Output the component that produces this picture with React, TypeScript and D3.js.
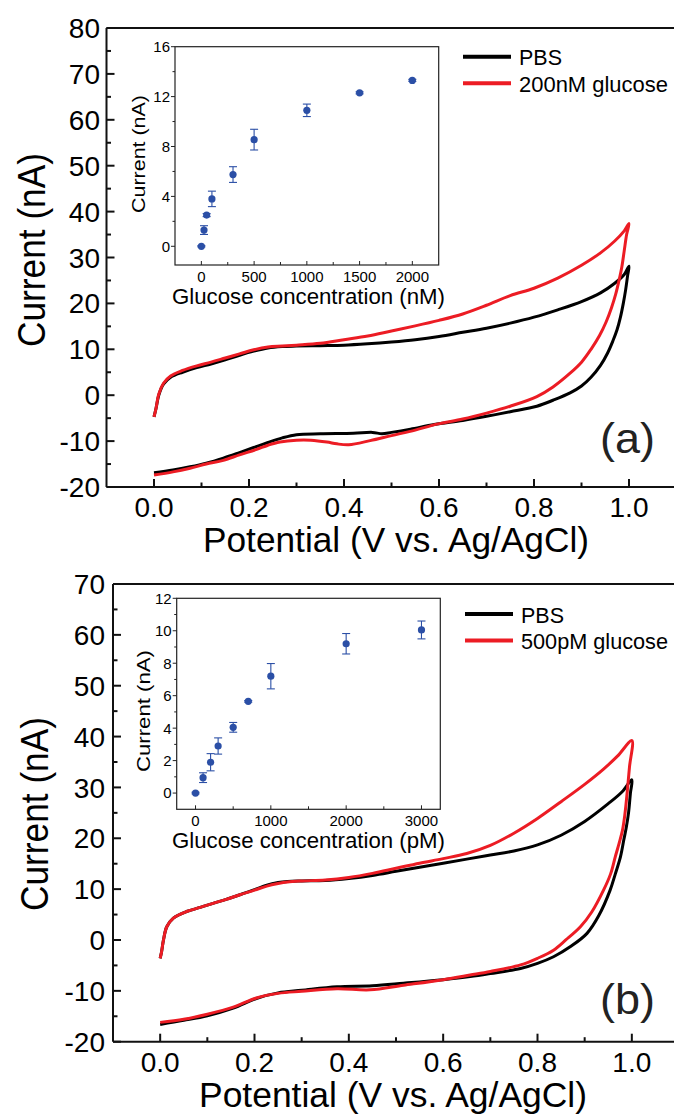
import React from 'react';
import * as d3 from 'd3';

type Pt = [number, number];

// ---------- Panel (a) cyclic voltammograms: [potential V, current nA] ----------
const aPbsFwd: Pt[] = [[0,-4.7],[0.004,-3.0],[0.01,0.0],[0.02,2.4],[0.035,3.9],[0.06,5.0],[0.09,6.0],[0.12,6.8],[0.15,7.7],[0.18,8.7],[0.21,9.6],[0.24,10.3],[0.27,10.6],[0.3,10.7],[0.35,10.8],[0.4,10.9],[0.45,11.2],[0.5,11.6],[0.55,12.1],[0.6,12.8],[0.65,13.7],[0.7,14.6],[0.75,15.7],[0.8,17.0],[0.85,18.6],[0.9,20.4],[0.94,22.3],[0.97,24.4],[0.99,26.3],[1.0,28.1]];
const aPbsRev: Pt[] = [[0.997,26.0],[0.993,23.0],[0.988,20.0],[0.982,17.0],[0.975,14.3],[0.966,11.8],[0.955,9.2],[0.94,6.5],[0.92,3.9],[0.9,2.0],[0.876,0.5],[0.84,-1.1],[0.806,-2.4],[0.75,-3.6],[0.7,-4.6],[0.65,-5.5],[0.59,-6.4],[0.54,-7.4],[0.5,-8.1],[0.48,-8.4],[0.46,-8.1],[0.42,-8.3],[0.35,-8.4],[0.3,-8.6],[0.27,-9.3],[0.24,-10.3],[0.21,-11.4],[0.18,-12.5],[0.146,-13.7],[0.11,-14.8],[0.076,-15.6],[0.04,-16.3],[0,-16.9]];
const aGluFwd: Pt[] = [[0,-4.7],[0.004,-3.0],[0.01,0.2],[0.02,2.6],[0.035,4.2],[0.06,5.4],[0.09,6.4],[0.12,7.2],[0.15,8.1],[0.18,9.0],[0.21,9.9],[0.24,10.5],[0.27,10.7],[0.3,10.9],[0.35,11.3],[0.4,12.1],[0.45,12.9],[0.5,14.0],[0.55,15.1],[0.6,16.3],[0.65,17.7],[0.7,19.6],[0.75,21.7],[0.8,23.3],[0.85,25.5],[0.9,28.3],[0.94,31.0],[0.97,33.6],[0.99,35.8],[1.0,37.4]];
const aGluRev: Pt[] = [[0.995,35.0],[0.99,31.5],[0.985,28.0],[0.979,25.0],[0.972,22.0],[0.963,19.0],[0.952,16.0],[0.938,13.0],[0.92,10.0],[0.9,7.2],[0.876,4.8],[0.84,1.8],[0.806,-0.3],[0.75,-2.4],[0.7,-3.9],[0.65,-5.2],[0.596,-6.3],[0.55,-7.6],[0.5,-8.8],[0.455,-9.9],[0.41,-10.8],[0.385,-10.6],[0.364,-10.2],[0.33,-9.8],[0.3,-9.8],[0.265,-10.2],[0.24,-10.9],[0.216,-11.8],[0.18,-13.0],[0.146,-14.2],[0.11,-15.0],[0.076,-15.9],[0.04,-16.7],[0,-17.4]];

// ---------- Panel (b) ----------
const bPbsFwd: Pt[] = [[0,-3.6],[0.003,-2.3],[0.007,0.0],[0.014,2.6],[0.028,4.3],[0.056,5.6],[0.085,6.4],[0.112,7.2],[0.14,8.0],[0.169,8.9],[0.2,9.9],[0.226,10.8],[0.25,11.3],[0.27,11.5],[0.3,11.6],[0.35,11.7],[0.4,12.1],[0.45,12.7],[0.5,13.5],[0.55,14.3],[0.6,15.1],[0.65,15.9],[0.7,16.7],[0.75,17.5],[0.8,18.7],[0.85,20.6],[0.9,23.3],[0.95,26.8],[0.98,29.2],[1.0,31.5]];
const bPbsRev: Pt[] = [[0.997,28.9],[0.993,25.0],[0.988,22.0],[0.983,19.7],[0.976,16.4],[0.965,13.0],[0.954,9.8],[0.93,4.8],[0.905,1.3],[0.87,-1.3],[0.834,-3.3],[0.8,-4.6],[0.764,-5.6],[0.7,-6.6],[0.657,-7.2],[0.6,-7.8],[0.516,-8.5],[0.45,-9.0],[0.375,-9.2],[0.3,-9.9],[0.25,-10.4],[0.204,-11.5],[0.155,-13.4],[0.1,-14.9],[0.05,-15.8],[0,-16.6]];
const bGluFwd: Pt[] = [[0,-3.6],[0.003,-2.3],[0.007,0.0],[0.014,2.6],[0.028,4.3],[0.056,5.6],[0.085,6.4],[0.112,7.2],[0.14,8.0],[0.169,8.9],[0.2,9.8],[0.226,10.6],[0.25,11.1],[0.27,11.4],[0.3,11.6],[0.35,11.8],[0.4,12.3],[0.45,13.1],[0.5,14.1],[0.55,15.1],[0.6,16.0],[0.65,17.0],[0.7,18.6],[0.75,21.0],[0.8,23.9],[0.85,27.2],[0.9,30.6],[0.94,33.6],[0.97,36.2],[1.0,39.2]];
const bGluRev: Pt[] = [[0.995,34.0],[0.99,28.9],[0.985,24.5],[0.98,21.5],[0.973,19.0],[0.965,16.4],[0.955,13.0],[0.94,9.8],[0.915,5.5],[0.891,2.6],[0.86,0.0],[0.834,-2.0],[0.8,-3.6],[0.764,-4.9],[0.7,-6.2],[0.657,-6.9],[0.6,-7.8],[0.516,-8.9],[0.445,-9.8],[0.375,-9.6],[0.3,-10.1],[0.25,-10.5],[0.204,-11.4],[0.155,-13.2],[0.1,-14.6],[0.05,-15.6],[0,-16.2]];

// ---------- Insets: calibration points ----------
const insetAConc = [0, 25, 50, 100, 300, 500, 1000, 1500, 2000];
const insetACurrent = [0, 1.3, 2.5, 3.8, 5.75, 8.55, 10.9, 12.3, 13.3];
const insetAErr = [0.05, 0.35, 0.12, 0.62, 0.63, 0.83, 0.5, 0.08, 0.08];

const insetBConc = [0, 100, 200, 300, 500, 700, 1000, 2000, 3000];
const insetBCurrent = [0, 0.95, 1.9, 2.9, 4.05, 5.65, 7.2, 9.2, 10.05];
const insetBErr = [0.05, 0.3, 0.53, 0.5, 0.3, 0.05, 0.78, 0.63, 0.55];

// ---------- ticks / labels ----------
const potentialTicks = [0, 0.2, 0.4, 0.6, 0.8, 1.0];
const potentialMinor = [0.1, 0.3, 0.5, 0.7, 0.9];
const currentTicksA = [-20, -10, 0, 10, 20, 30, 40, 50, 60, 70, 80];
const currentTicksB = [-20, -10, 0, 10, 20, 30, 40, 50, 60, 70];
const insetAXTicks = [0, 500, 1000, 1500, 2000];
const insetAXMinor = [250, 750, 1250, 1750];
const insetAYTicks = [0, 4, 8, 12, 16];
const insetAYMinor = [2, 6, 10, 14];
const insetBXTicks = [0, 1000, 2000, 3000];
const insetBXMinor = [500, 1500, 2500];
const insetBYTicks = [0, 2, 4, 6, 8, 10, 12];
const insetBYMinor = [1, 3, 5, 7, 9, 11];

const FONT = '"Liberation Sans", Arial, Helvetica, sans-serif';
const RED = '#ec1c24';
const BLUE = '#2b4fa6';

interface InsetCfg {
  left: number; right: number; top: number; bottom: number;
  xDomain: [number, number]; yDomain: [number, number];
  xTicks: number[]; xMinor: number[]; yTicks: number[]; yMinor: number[];
  conc: number[]; cur: number[]; err: number[];
  xTitle: string; xTitleX: number; xTitleLen: number;
  yTitleX: number; yTitleY: number; yTitleLen: number;
}

function Inset({ c }: { c: InsetCfg }) {
  const x = d3.scaleLinear().domain(c.xDomain).range([c.left, c.right]);
  const y = d3.scaleLinear().domain(c.yDomain).range([c.bottom, c.top]);
  return (
    <g>
      <rect x={c.left} y={c.top} width={c.right - c.left} height={c.bottom - c.top} fill="white" stroke="#222" strokeWidth={1.2} />
      {c.xTicks.map(t => (
        <g key={'xt' + t}>
          <line x1={x(t)} x2={x(t)} y1={c.bottom} y2={c.bottom - 4} stroke="#222" strokeWidth={1} />
          <text x={x(t)} y={c.bottom + 17} fontSize={15} textAnchor="middle" fontFamily={FONT}>{t}</text>
        </g>
      ))}
      {c.xMinor.map(t => (
        <line key={'xm' + t} x1={x(t)} x2={x(t)} y1={c.bottom} y2={c.bottom - 3} stroke="#222" strokeWidth={1} />
      ))}
      {c.yTicks.map(t => (
        <g key={'yt' + t}>
          <line x1={c.left} x2={c.left - 4} y1={y(t)} y2={y(t)} stroke="#222" strokeWidth={1} />
          <text x={c.left - 5} y={y(t)} dy="0.36em" fontSize={15} textAnchor="end" fontFamily={FONT}>{t}</text>
        </g>
      ))}
      {c.yMinor.map(t => (
        <line key={'ym' + t} x1={c.left} x2={c.left - 2.5} y1={y(t)} y2={y(t)} stroke="#222" strokeWidth={1} />
      ))}
      {c.conc.map((v, i) => {
        const cx = x(v);
        const e0 = y(c.cur[i] - c.err[i]);
        const e1 = y(c.cur[i] + c.err[i]);
        return (
          <g key={'p' + i}>
            <line x1={cx} x2={cx} y1={e0} y2={e1} stroke={BLUE} strokeWidth={1.1} />
            <line x1={cx - 4} x2={cx + 4} y1={e0} y2={e0} stroke={BLUE} strokeWidth={1.1} />
            <line x1={cx - 4} x2={cx + 4} y1={e1} y2={e1} stroke={BLUE} strokeWidth={1.1} />
            <circle cx={cx} cy={y(c.cur[i])} r={3.6} fill={BLUE} />
          </g>
        );
      })}
      <text x={c.xTitleX} y={c.bottom + 39} fontSize={22} fontFamily={FONT} textLength={c.xTitleLen} lengthAdjust="spacingAndGlyphs">{c.xTitle}</text>
      <text transform={`translate(${c.yTitleX},${c.yTitleY}) rotate(-90)`} fontSize={19} textAnchor="middle" fontFamily={FONT} textLength={c.yTitleLen} lengthAdjust="spacingAndGlyphs">Current (nA)</text>
    </g>
  );
}

interface PanelCfg {
  left: number; right: number; top: number; bottom: number;
  yDomain: [number, number]; yTicks: number[];
  pbs: Pt[]; glu: Pt[];
  legendY: number; legendLabel: string; legendLen: number; legendX1: number;
  label: string; labelY: number;
  yTitleX: number; yTitleY: number; yLabelX: number;
  xTitleCx: number; xTitleLen: number;
  inset: InsetCfg;
}

function Panel({ c }: { c: PanelCfg }) {
  const x = d3.scaleLinear().domain([-0.1, 1.1]).range([c.left, c.right]);
  const y = d3.scaleLinear().domain(c.yDomain).range([c.bottom, c.top]);
  const line = d3.line<Pt>().x(d => x(d[0])).y(d => y(d[1])).curve(d3.curveCatmullRom.alpha(0.5));
  const minorY = c.yTicks.slice(0, -1).map(t => t + 5);
  return (
    <g>
      {/* frame */}
      <line x1={c.left} x2={c.right} y1={c.top} y2={c.top} stroke="#111" strokeWidth={2} />
      <line x1={c.left} x2={c.right} y1={c.bottom} y2={c.bottom} stroke="#111" strokeWidth={2} />
      <line x1={c.left} x2={c.left} y1={c.top} y2={c.bottom} stroke="#111" strokeWidth={2} />
      <line x1={c.right} x2={c.right} y1={c.top} y2={c.bottom} stroke="#111" strokeWidth={2} />
      {c.yTicks.map(t => (
        <g key={'y' + t}>
          <line x1={c.left} x2={c.left + 8} y1={y(t)} y2={y(t)} stroke="#111" strokeWidth={2} />
          <text x={c.yLabelX} y={y(t)} dy="0.36em" fontSize={28} textAnchor="end" fontFamily={FONT}>{t}</text>
        </g>
      ))}
      {minorY.map(t => (
        <line key={'ym' + t} x1={c.left} x2={c.left + 4.5} y1={y(t)} y2={y(t)} stroke="#111" strokeWidth={2} />
      ))}
      {potentialTicks.map(t => (
        <g key={'x' + t}>
          <line x1={x(t)} x2={x(t)} y1={c.bottom} y2={c.bottom - 8} stroke="#111" strokeWidth={2} />
          <text x={x(t)} y={c.bottom + 30} fontSize={28} textAnchor="middle" fontFamily={FONT}>{d3.format('.1f')(t)}</text>
        </g>
      ))}
      {potentialMinor.map(t => (
        <line key={'xm' + t} x1={x(t)} x2={x(t)} y1={c.bottom} y2={c.bottom - 4.5} stroke="#111" strokeWidth={2} />
      ))}
      <text x={c.xTitleCx} y={c.bottom + 65} fontSize={35} textAnchor="middle" fontFamily={FONT} textLength={c.xTitleLen} lengthAdjust="spacingAndGlyphs">Potential (V vs. Ag/AgCl)</text>
      <text transform={`translate(${c.yTitleX},${c.yTitleY}) rotate(-90)`} fontSize={38} textAnchor="middle" fontFamily={FONT} textLength={194} lengthAdjust="spacingAndGlyphs">Current (nA)</text>

      {/* curves */}
      <path d={line(c.pbs) || ''} fill="none" stroke="#000" strokeWidth={3} strokeLinejoin="round" />
      <path d={line(c.glu) || ''} fill="none" stroke={RED} strokeWidth={3} strokeLinejoin="round" />

      {/* legend */}
      <line x1={c.legendX1} x2={c.legendX1 + 48} y1={c.legendY} y2={c.legendY} stroke="#000" strokeWidth={4} />
      <text x={c.legendX1 + 56} y={c.legendY + 8.5} fontSize={22} fontFamily={FONT} textLength={43} lengthAdjust="spacingAndGlyphs">PBS</text>
      <line x1={c.legendX1} x2={c.legendX1 + 48} y1={c.legendY + 26.6} y2={c.legendY + 26.6} stroke={RED} strokeWidth={4} />
      <text x={c.legendX1 + 56} y={c.legendY + 26.6 + 8.5} fontSize={22} fontFamily={FONT} textLength={c.legendLen} lengthAdjust="spacingAndGlyphs">{c.legendLabel}</text>

      <text x={600} y={c.labelY} fontSize={42} fontFamily={FONT} textLength={55} lengthAdjust="spacingAndGlyphs" fill="#222">{c.label}</text>

      <Inset c={c.inset} />
    </g>
  );
}

const panelA: PanelCfg = {
  left: 106.5, right: 676.5, top: 28, bottom: 487,
  yDomain: [-20, 80], yTicks: currentTicksA,
  pbs: [...aPbsFwd, ...aPbsRev], glu: [...aGluFwd, ...aGluRev],
  legendY: 56.7, legendLabel: '200nM glucose', legendLen: 149, legendX1: 463,
  label: '(a)', labelY: 453,
  yTitleX: 45, yTitleY: 250, yLabelX: 100,
  xTitleCx: 396, xTitleLen: 386,
  inset: {
    left: 175, right: 438.7, top: 46.7, bottom: 265,
    xDomain: [-250, 2250], yDomain: [-1.5, 16],
    xTicks: insetAXTicks, xMinor: insetAXMinor, yTicks: insetAYTicks, yMinor: insetAYMinor,
    conc: insetAConc, cur: insetACurrent, err: insetAErr,
    xTitle: 'Glucose concentration (nM)', xTitleX: 172, xTitleLen: 273,
    yTitleX: 145, yTitleY: 154, yTitleLen: 118,
  },
};

const panelB: PanelCfg = {
  left: 113, right: 679, top: 584, bottom: 1041.7,
  yDomain: [-20, 70], yTicks: currentTicksB,
  pbs: [...bPbsFwd, ...bPbsRev], glu: [...bGluFwd, ...bGluRev],
  legendY: 614, legendLabel: '500pM glucose', legendLen: 147, legendX1: 465,
  label: '(b)', labelY: 1014,
  yTitleX: 48, yTitleY: 814, yLabelX: 105,
  xTitleCx: 393, xTitleLen: 388,
  inset: {
    left: 176.7, right: 440.3, top: 598.3, bottom: 809.3,
    xDomain: [-250, 3250], yDomain: [-1, 12],
    xTicks: insetBXTicks, xMinor: insetBXMinor, yTicks: insetBYTicks, yMinor: insetBYMinor,
    conc: insetBConc, cur: insetBCurrent, err: insetBErr,
    xTitle: 'Glucose concentration (pM)', xTitleX: 172, xTitleLen: 273,
    yTitleX: 150, yTitleY: 711, yTitleLen: 122,
  },
};

export default function App() {
  return (
    <svg width={674} height={1118} viewBox="0 0 674 1118" style={{ position: 'absolute', left: 0, top: 0, background: 'white' }}>
      <rect x={0} y={0} width={674} height={1118} fill="white" />
      <Panel c={panelA} />
      <Panel c={panelB} />
    </svg>
  );
}
